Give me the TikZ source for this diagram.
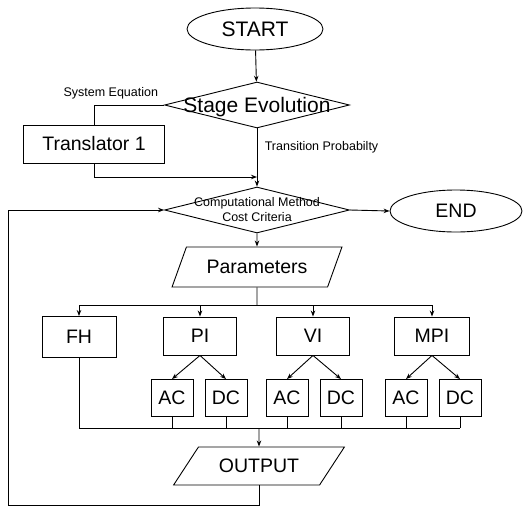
\documentclass[tikz,border=0pt]{standalone}
\usepackage{fontspec}
\setmainfont{Liberation Sans}
\usetikzlibrary{shapes.geometric,arrows.meta}
\begin{document}
\begin{tikzpicture}[x=1pt,y=-1pt,line width=0.9pt,>={Stealth[length=6pt,width=4.5pt]},
    big/.style={font=\fontsize{19.5}{22}\selectfont},
    bigger/.style={font=\fontsize{21}{24}\selectfont},
    small/.style={font=\fontsize{12.5}{15}\selectfont},
    terminal/.style={draw,ellipse,inner sep=0pt,big},
    decision/.style={draw,diamond,inner sep=0pt,minimum width=185pt,minimum height=46pt},
    io/.style={draw,trapezium,trapezium stretches=true,inner sep=0pt,big},
    block/.style={draw,rectangle,inner sep=0pt,big,minimum height=38pt},
    leaf/.style={block,minimum width=42pt,minimum height=37pt}]
  \useasboundingbox (0,0) rectangle (531,507);
  \node[terminal,bigger,minimum width=136pt,minimum height=42pt] (start) at (255,29) {START};
  \node[decision,label={[bigger,yshift=-2pt]center:Stage Evolution}] (stage) at (257,105) {};
  \node[block,minimum width=141pt] (trans) at (94,144) {Translator 1};
  \node[decision,label={[small,align=center]center:Computational Method\\Cost Criteria}] (comp) at (257,210) {};
  \node[terminal,minimum width=132pt,minimum height=42pt] (end) at (456,211) {END};
  \node[io,trapezium left angle=53,trapezium right angle=127,minimum width=170pt,minimum height=40pt] (param) at (257,267) {Parameters};
  \node[block,minimum width=74pt,minimum height=41pt] (fh) at (79,337) {FH};
  \node[block,minimum width=73pt] (pi) at (200,336) {PI};
  \node[block,minimum width=73pt] (vi) at (313,336) {VI};
  \node[block,minimum width=75pt] (mpi) at (432,336) {MPI};
  \node[leaf] (piac) at (172,398) {AC};
  \node[leaf] (pidc) at (226,398) {DC};
  \node[leaf] (viac) at (287,398) {AC};
  \node[leaf] (vidc) at (341,398) {DC};
  \node[leaf] (mpiac) at (406,398) {AC};
  \node[leaf] (mpidc) at (460,398) {DC};
  \node[io,trapezium left angle=40,trapezium right angle=140,minimum width=171pt,minimum height=38pt] (out) at (259,466) {OUTPUT};
  \coordinate (join) at (257,177);
  \coordinate (split) at (257,305);
  \coordinate (merge) at (259,428);
  \coordinate (loop) at (8,505);

  \draw[->] (start) -- (stage);
  \draw (stage.west) -| node[small,pos=0.38,above=2pt] {System Equation} (trans.north);
  \draw[->] (trans.south) |- (join);
  \draw[->] (stage.south) -- node[small,right=4pt,pos=0.33] {Transition Probabilty} (comp.north);
  \draw[->] (comp.east) -- (end.west);
  \draw[->] (comp.south) -- (param.north);
  \draw (param.south) -- (split);
  \foreach \n in {fh,pi,vi,mpi}
    \draw[->] (split) -| (\n.north);
  \foreach \p in {pi,vi,mpi} {
    \draw[->] (\p.south) -- (\p ac.north);
    \draw[->] (\p.south) -- (\p dc.north);
  }
  \draw (fh.south) |- (mpidc.south |- merge);
  \foreach \n in {piac,pidc,viac,vidc,mpiac,mpidc}
    \draw (\n.south) -- (\n.south |- merge);
  \draw[->] (merge) -- (out.north);
  \draw[->] (out.south) |- (loop) |- (comp.west);
\end{tikzpicture}
\end{document}
